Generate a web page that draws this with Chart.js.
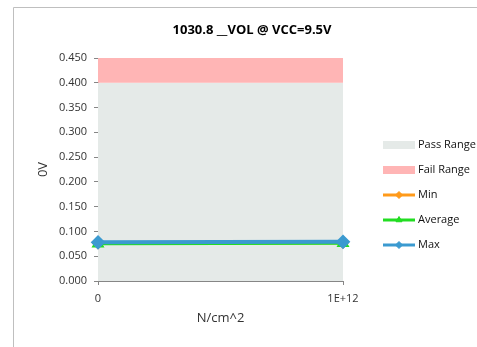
<!DOCTYPE html>
<html>
<head>
<meta charset="utf-8">
<title>VOL @ VCC=9.5V</title>
<script src="https://cdn.jsdelivr.net/npm/chart.js@4.4.0/dist/chart.umd.min.js"></script>
<style>
    html, body { margin: 0; padding: 0; background: #fff; }
    #wrap { width: 477px; height: 347px; }
</style>
</head>
<body>
<div id="wrap"><canvas id="volChart" width="477" height="347"></canvas></div>
<script>
// fluence points (x categories) and measured VOL per point
const fluence = ["0", "1E+12"];
const passLimit = [0.4, 0.4];
const failLimit = [0.45, 0.45];
const minVol = [0.076, 0.077];
const avgVol = [0.075, 0.076];
const maxVol = [0.078, 0.079];

const yMin = 0;
const yMax = 0.45;
const yStep = 0.05;

const FONT = "'Open Sans', 'Liberation Sans', sans-serif";
const TEXT = "#333";
const AXIS = "#868686";

// white background + the chart frame (top and left edges)
const framePlugin = {
    id: "frame",
    beforeDraw(chart) {
        const ctx = chart.ctx;
        ctx.save();
        ctx.fillStyle = "#fff";
        ctx.fillRect(0, 0, chart.width, chart.height);
        ctx.strokeStyle = "#BFBFBF";
        ctx.lineWidth = 1;
        ctx.beginPath();
        ctx.moveTo(13.5, chart.height);
        ctx.lineTo(13.5, 7.5);
        ctx.lineTo(chart.width, 7.5);
        ctx.stroke();
        ctx.restore();
    }
};

// legend on the right: boxes for the ranges, line + marker for the series
const sideLegend = {
    id: "sideLegend",
    afterDraw(chart) {
        const ctx = chart.ctx;
        const x0 = 383, y0 = 145, gap = 25, w = 32;
        ctx.save();
        ctx.font = "11px " + FONT;
        ctx.textBaseline = "middle";
        ctx.textAlign = "left";
        chart.data.datasets.forEach((ds, i) => {
            const y = y0 + i * gap;
            if (ds.fill) {
                ctx.fillStyle = ds.backgroundColor;
                ctx.fillRect(x0, y - 4, w, 8);
            } else {
                ctx.strokeStyle = ds.borderColor;
                ctx.lineWidth = 3;
                ctx.beginPath();
                ctx.moveTo(x0, y);
                ctx.lineTo(x0 + w, y);
                ctx.stroke();
                ctx.fillStyle = ds.pointBackgroundColor;
                ctx.strokeStyle = ds.pointBorderColor;
                ctx.lineWidth = 1;
                Chart.helpers.drawPoint(ctx, { pointStyle: ds.pointStyle, rotation: 0, radius: 3.5, borderWidth: 1 }, x0 + w / 2, y);
            }
            ctx.fillStyle = "#111";
            ctx.fillText(ds.label, x0 + w + 3, y);
        });
        ctx.restore();
    }
};

function lineSet(label, data, color, style, width, radius, order) {
    return {
        label: label,
        data: data,
        borderColor: color,
        backgroundColor: color,
        pointBackgroundColor: color,
        pointBorderColor: color,
        borderWidth: width,
        pointStyle: style,
        pointRadius: radius,
        tension: 0,
        fill: false,
        order: order
    };
}

const ctx = document.getElementById("volChart").getContext("2d");
new Chart(ctx, {
    type: "line",
    data: {
        labels: fluence,
        datasets: [
            { label: "Pass Range", data: passLimit, fill: "origin", backgroundColor: "#E5EAE8", borderWidth: 0, pointRadius: 0, order: 5 },
            { label: "Fail Range", data: failLimit, fill: "-1", backgroundColor: "#FFB5B5", borderWidth: 0, pointRadius: 0, order: 4 },
            lineSet("Min", minVol, "#FF9A1A", "rectRot", 3, 4, 3),
            lineSet("Average", avgVol, "#22DD22", "triangle", 3, 4.5, 2),
            lineSet("Max", maxVol, "#3B9AD0", "rectRot", 4, 4.5, 1)
        ]
    },
    options: {
        responsive: false,
        animation: false,
        layout: { padding: { left: 27, right: 0, top: 0, bottom: 0 } },
        plugins: {
            legend: { display: false },
            tooltip: { enabled: false },
            title: {
                display: true,
                text: "1030.8 __VOL @ VCC=9.5V",
                color: "#000",
                font: { family: FONT, size: 13, weight: "bold" },
                padding: { top: 22.7, bottom: 19.7 }
            }
        },
        scales: {
            x: {
                type: "category",
                offset: false,
                afterFit: s => { s.height = 66; },
                grid: { drawOnChartArea: false, drawTicks: true, tickLength: 4, color: AXIS },
                border: { display: true, color: AXIS },
                ticks: { color: TEXT, font: { family: FONT, size: 11 }, padding: 7, maxRotation: 0 },
                title: { display: true, text: "N/cm^2", color: TEXT, font: { family: FONT, size: 13 }, padding: { top: 0, bottom: 21 } }
            },
            y: {
                min: yMin,
                max: yMax,
                afterFit: s => { s.width = 71; },
                grid: { drawOnChartArea: false, drawTicks: true, tickLength: 4, color: AXIS },
                border: { display: true, color: AXIS },
                ticks: { stepSize: yStep, color: TEXT, font: { family: FONT, size: 11 }, padding: 7, callback: v => v.toFixed(3) },
                title: { display: true, text: "0V", color: TEXT, font: { family: FONT, size: 13 }, padding: { top: 8, bottom: 0 } }
            },
            // empty axis that reserves room for the side legend
            pad: {
                type: "linear",
                position: "right",
                afterFit: s => { s.width = 134; },
                grid: { display: false },
                border: { display: false },
                ticks: { display: false }
            }
        }
    },
    plugins: [framePlugin, sideLegend]
});
</script>
</body>
</html>
